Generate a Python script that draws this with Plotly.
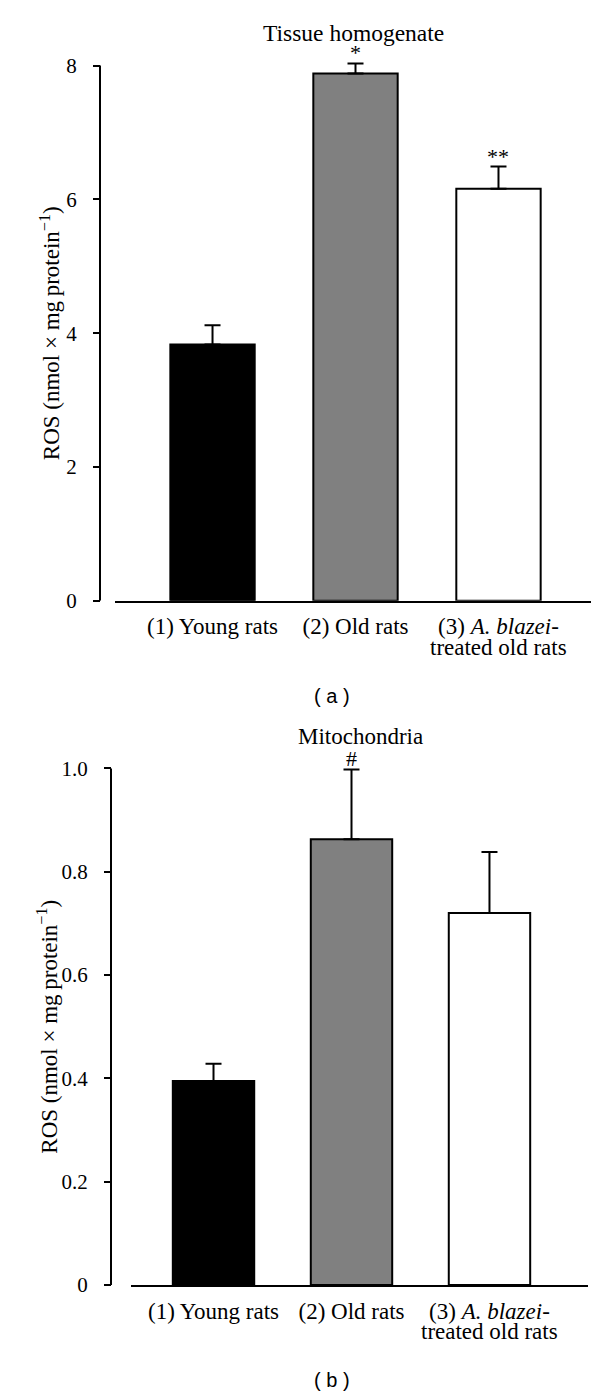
import plotly.graph_objects as go

# ---------------- data ----------------
categories = ["(1) Young rats", "(2) Old rats", "(3) A. blazei-treated old rats"]
tick_line1 = ["(1) Young rats", "(2) Old rats", "(3) <i>A. blazei</i>-"]
tick_line2 = ["", "", "treated old rats"]
bar_colors = ["#000000", "#808080", "#ffffff"]

tissue_mean = [3.83, 7.88, 6.16]
tissue_err = [0.29, 0.15, 0.33]
tissue_marks = ["", "*", "**"]
tissue_ticks = [0, 2, 4, 6, 8]
tissue_ticktext = ["0", "2", "4", "6", "8"]

mito_mean = [0.395, 0.863, 0.72]
mito_err = [0.033, 0.135, 0.118]
mito_marks = ["", "#", ""]
mito_ticks = [0, 0.2, 0.4, 0.6, 0.8, 1.0]
mito_ticktext = ["0", "0.2", "0.4", "0.6", "0.8", "1.0"]

y_title = "ROS (nmol × mg\u2009protein<sup>−1</sup>)"

# ---------------- layout helpers ----------------
W, H = 600, 1398
SERIF = "Liberation Serif, Times New Roman, serif"
SANS = "Liberation Sans, Arial, sans-serif"


def px(x):
    return x / W


def py(y):
    return 1 - y / H


# panel a geometry (pixels)
A_Y0, A_PPU, A_TOP = 598, 67.5, 8.3
A_AXIS_X = 92
# panel b geometry
B_Y0, B_PPU, B_TOP = 1288, 521.0, 1.03
B_AXIS_X = 103

fig = go.Figure()

err_common = dict(type="data", symmetric=False, color="black", thickness=2, width=8)

fig.add_trace(go.Bar(
    x=categories, y=tissue_mean, xaxis="x", yaxis="y", width=0.59,
    marker=dict(color=bar_colors, line=dict(color="black", width=2)),
    error_y=dict(array=tissue_err, arrayminus=[0] * len(tissue_err), **err_common),
    showlegend=False, hoverinfo="x+y",
))
fig.add_trace(go.Bar(
    x=categories, y=mito_mean, xaxis="x2", yaxis="y2", width=0.59,
    marker=dict(color=bar_colors, line=dict(color="black", width=2)),
    error_y=dict(array=mito_err, arrayminus=[0] * len(mito_err), **err_common),
    showlegend=False, hoverinfo="x+y",
))

xaxis_common = dict(
    type="category", showline=True, linecolor="black", linewidth=2,
    ticks="", showgrid=False, zeroline=False,
    tickvals=categories, ticktext=tick_line1,
    tickfont=dict(family=SERIF, size=23, color="black"),
    ticklabelstandoff=4, fixedrange=True,
)
yaxis_common = dict(
    showline=False, ticks="outside", ticklen=7, tickwidth=2, tickcolor="black",
    showgrid=False, zeroline=False, anchor="free",
    tickfont=dict(family=SERIF, size=21, color="black"),
    ticklabelstandoff=12, fixedrange=True,
)

fig.update_layout(
    width=W, height=H,
    margin=dict(l=0, r=0, t=0, b=0),
    paper_bgcolor="white", plot_bgcolor="white",
    showlegend=False,
    xaxis=dict(domain=[px(107), px(583)], anchor="y", range=[-0.682, 2.647], **xaxis_common),
    yaxis=dict(domain=[py(A_Y0), py(A_Y0 - A_TOP * A_PPU)], range=[0, A_TOP],
               position=px(A_AXIS_X), tickvals=tissue_ticks, ticktext=tissue_ticktext,
               **yaxis_common),
    xaxis2=dict(domain=[px(123), px(580)], anchor="y2", range=[-0.598, 2.714], **xaxis_common),
    yaxis2=dict(domain=[py(B_Y0), py(B_Y0 - B_TOP * B_PPU)], range=[0, B_TOP],
                position=px(B_AXIS_X), tickvals=mito_ticks, ticktext=mito_ticktext,
                **yaxis_common),
)

# y axis lines ending exactly at the top tick
fig.add_shape(type="line", xref="paper", yref="y", x0=px(A_AXIS_X), x1=px(A_AXIS_X),
              y0=tissue_ticks[0], y1=tissue_ticks[-1], line=dict(color="black", width=2))
fig.add_shape(type="line", xref="paper", yref="y2", x0=px(B_AXIS_X), x1=px(B_AXIS_X),
              y0=mito_ticks[0], y1=mito_ticks[-1], line=dict(color="black", width=2))

ann = []
font_serif = dict(family=SERIF, size=23, color="black")

# second line of category labels
for xr, yline in (("x", 645), ("x2", 1335)):
    for c, t in zip(categories, tick_line2):
        if t:
            ann.append(dict(text=t, x=c, xref=xr, y=py(yline), yref="paper",
                            xanchor="center", yanchor="middle", showarrow=False, font=font_serif))

# significance marks
for xr, yr, means, errs, marks in (("x", "y", tissue_mean, tissue_err, tissue_marks),
                                   ("x2", "y2", mito_mean, mito_err, mito_marks)):
    for c, m, e, mk in zip(categories, means, errs, marks):
        if mk:
            ann.append(dict(text=mk, x=c, xref=xr, y=m + e, yref=yr, xanchor="center",
                            yanchor="bottom", yshift=-4, showarrow=False,
                            font=dict(family=SERIF, size=22, color="black")))

# panel titles
ann.append(dict(text="Tissue homogenate", x=px(345), y=py(25), xref="paper", yref="paper",
                xanchor="center", yanchor="middle", showarrow=False,
                font=dict(family=SERIF, size=23.5, color="black")))
ann.append(dict(text="Mitochondria", x=px(352), y=py(735), xref="paper", yref="paper",
                xanchor="center", yanchor="middle", showarrow=False,
                font=dict(family=SERIF, size=23, color="black")))

# y-axis titles
ann.append(dict(text=y_title, x=px(42), y=py((A_Y0 + 58) / 2), xref="paper", yref="paper",
                textangle=-90, xanchor="center", yanchor="middle", showarrow=False,
                font=dict(family=SERIF, size=23, color="black")))
ann.append(dict(text=y_title, x=px(40), y=py((B_Y0 + 767) / 2), xref="paper", yref="paper",
                textangle=-90, xanchor="center", yanchor="middle", showarrow=False,
                font=dict(family=SERIF, size=23, color="black")))

# panel letters
ann.append(dict(text="( a )", x=px(324), y=py(694), xref="paper", yref="paper",
                xanchor="center", yanchor="middle", showarrow=False,
                font=dict(family=SANS, size=20, color="black")))
ann.append(dict(text="( b )", x=px(324), y=py(1384), xref="paper", yref="paper",
                xanchor="center", yanchor="middle", showarrow=False,
                font=dict(family=SANS, size=20, color="black")))

fig.update_layout(annotations=ann)

fig.write_html("out.html")
